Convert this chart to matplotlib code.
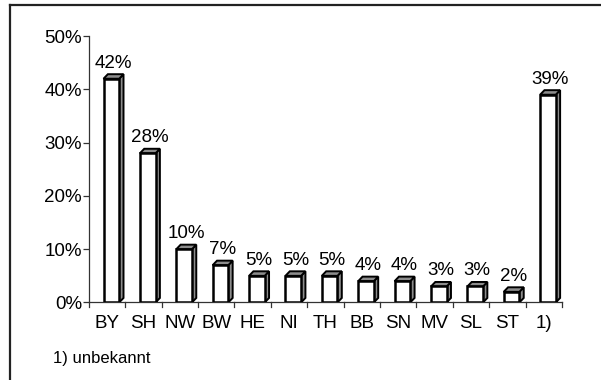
import matplotlib.pyplot as plt
from matplotlib.patches import Polygon, Rectangle
from matplotlib.lines import Line2D

# Anteile nach Bundesland
laender = ["BY", "SH", "NW", "BW", "HE", "NI", "TH", "BB", "SN", "MV", "SL", "ST", "1)"]
anteile = [42, 28, 10, 7, 5, 5, 5, 4, 4, 3, 3, 2, 39]
yticks = [0, 10, 20, 30, 40, 50]
fussnote = "1) unbekannt"

plt.rcParams['font.family'] = ['Liberation Sans', 'DejaVu Sans']
fs = 13.5

fig = plt.figure(figsize=(6.01, 3.80), dpi=100)
ax = fig.add_axes([0.148, 0.204, 0.787, 0.701])

# column geometry (in data units)
x_off = -0.10   # left edge of front face relative to category centre
width = 0.43
dx, dy = 0.12, 0.85   # depth of the pseudo-3D effect
side_col = '#8c8c8c'

for i, v in enumerate(anteile):
    x0 = i + x_off
    x1 = x0 + width
    # side face
    ax.add_patch(Polygon([(x1, 0), (x1 + dx, dy), (x1 + dx, v + dy), (x1, v)],
                         closed=True, facecolor=side_col, edgecolor='black',
                         linewidth=1.4, joinstyle='miter', zorder=3))
    # top face
    ax.add_patch(Polygon([(x0, v), (x0 + dx, v + dy), (x1 + dx, v + dy), (x1, v)],
                         closed=True, facecolor=side_col, edgecolor='black',
                         linewidth=1.4, joinstyle='miter', zorder=3))
    # front face
    ax.add_patch(Rectangle((x0, 0), width, v, facecolor='white', edgecolor='black',
                           linewidth=1.8, joinstyle='miter', zorder=4))
    ax.text(x0 + (width + dx) / 2, v + dy + 0.5, f"{v}%", ha='center', va='bottom',
            fontsize=fs, zorder=5)

ax.set_xlim(-0.5, len(laender) - 0.5)
ax.set_ylim(0, 50)
ax.set_yticks(yticks)
ax.set_yticklabels([f"{t}%" for t in yticks], fontsize=fs)
ax.set_xticks(range(len(laender)))
ax.set_xticklabels(laender, fontsize=fs)
ax.tick_params(axis='x', length=0, pad=9)
ax.tick_params(axis='y', length=4, width=0.9, pad=1, color='#333333')

# tick marks between the categories
for b in range(len(laender) + 1):
    ax.plot([b - 0.5, b - 0.5], [0, -0.9], color='#333333', lw=0.9,
            clip_on=False, zorder=2)

for s in ['top', 'right']:
    ax.spines[s].set_visible(False)
for s in ['left', 'bottom']:
    ax.spines[s].set_linewidth(0.9)
    ax.spines[s].set_color('#333333')

fig.text(53 / 601, 1 - 359 / 380, fussnote, fontsize=12, ha='left', va='center')

# outer frame (left and top edge)
fig.add_artist(Line2D([9.5 / 601, 9.5 / 601], [0, 1 - 5 / 380], color='#222222', lw=1.6))
fig.add_artist(Line2D([9.5 / 601, 1], [1 - 5 / 380, 1 - 5 / 380], color='#222222', lw=1.6))

fig.savefig("out.png", dpi=100)
